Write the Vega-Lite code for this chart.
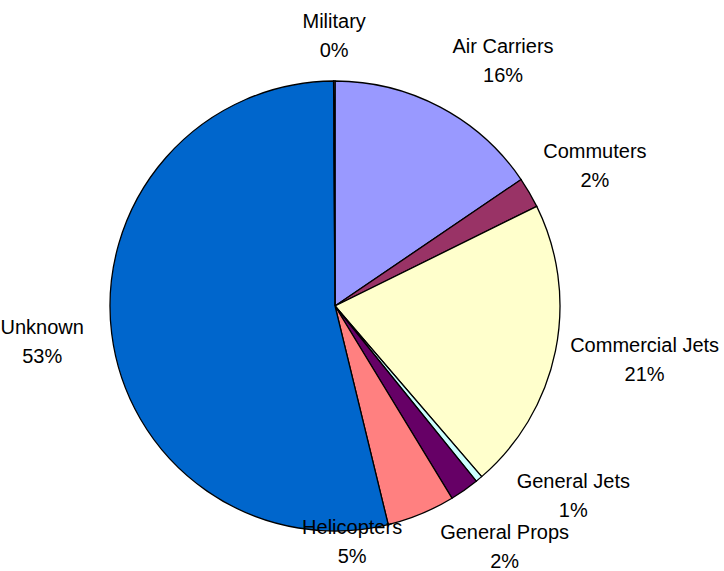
{
  "$schema": "https://vega.github.io/schema/vega-lite/v6.json",
  "description": "Pie chart of shares by aircraft category.",
  "width": 666,
  "height": 612,
  "padding": 0,
  "background": "white",
  "data": {
    "values": [
      {"category": "Air Carriers", "share": 15.5, "label": "Air Carriers\n16%", "rank": 1},
      {"category": "Commuters", "share": 2.2, "label": "Commuters\n2%", "rank": 2},
      {"category": "Commercial Jets", "share": 21.0, "label": "Commercial Jets\n21%", "rank": 3},
      {"category": "General Jets", "share": 0.5, "label": "General Jets\n1%", "rank": 4},
      {"category": "General Props", "share": 2.1, "label": "General Props\n2%", "rank": 5},
      {"category": "Helicopters", "share": 4.9, "label": "Helicopters\n5%", "rank": 6},
      {"category": "Unknown", "share": 53.7, "label": "Unknown\n53%", "rank": 7},
      {"category": "Military", "share": 0.1, "label": "Military\n0%", "rank": 8}
    ]
  },
  "encoding": {
    "theta": {"field": "share", "type": "quantitative", "stack": true},
    "order": {"field": "rank", "type": "quantitative"}
  },
  "layer": [
    {
      "mark": {"type": "arc", "outerRadius": 225, "stroke": "black", "strokeWidth": 1.3},
      "encoding": {
        "color": {
          "field": "category",
          "type": "nominal",
          "scale": {
            "domain": ["Air Carriers", "Commuters", "Commercial Jets", "General Jets", "General Props", "Helicopters", "Unknown", "Military"],
            "range": ["#9999FF", "#993366", "#FFFFCC", "#CCFFFF", "#660066", "#FF8080", "#0066CC", "#CCCCFF"]
          },
          "legend": null
        }
      }
    },
    {
      "mark": {
        "type": "text",
        "font": "Liberation Sans",
        "fontSize": 20,
        "lineBreak": "\n",
        "lineHeight": 29,
        "align": "center",
        "baseline": "middle",
        "color": "black",
        "radius": {"expr": "datum.category === 'Military' ? 270 : datum.category === 'Commercial Jets' ? 316 : datum.category === 'Helicopters' ? 225 : datum.category === 'General Jets' ? 299 : 295"},
        "dx": {"expr": "datum.category === 'Air Carriers' ? 30 : datum.category === 'General Jets' ? 47 : datum.category === 'Helicopters' ? -69 : datum.category === 'Commuters' ? 5 : 0"},
        "dy": {"expr": "(datum.category === 'Air Carriers' ? 16 : datum.category === 'General Jets' ? -39 : datum.category === 'Helicopters' ? 29 : datum.category === 'Commuters' ? 9 : datum.category === 'Commercial Jets' ? -9 : 0) - 14.5"}
      },
      "encoding": {
        "text": {"field": "label", "type": "nominal"}
      }
    }
  ],
  "view": {"stroke": null}
}
